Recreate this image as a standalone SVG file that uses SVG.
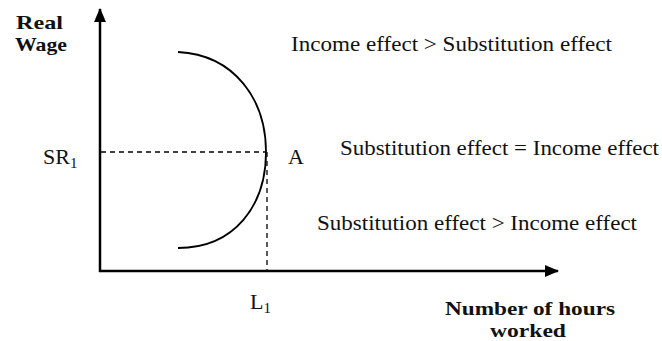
<svg xmlns="http://www.w3.org/2000/svg" width="662" height="341" viewBox="0 0 662 341">
<defs>
<marker id="arr" markerWidth="14" markerHeight="12" refX="13" refY="6" orient="auto" markerUnits="userSpaceOnUse">
<path d="M0,0 L14,6 L0,12 Z" fill="#000"/>
</marker>
<style>
.t{font-family:"Liberation Serif","Times New Roman",serif;font-size:22px;fill:#111}
.b{font-family:"Liberation Serif","Times New Roman",serif;font-size:19px;font-weight:bold;fill:#111}
.ax{stroke:#000;stroke-width:2.5;fill:none}
.dash{stroke:#000;stroke-width:1.3;stroke-dasharray:5,4;fill:none}
.curve{stroke:#000;stroke-width:1.8;fill:none}
</style>
</defs>
<rect width="662" height="341" fill="#fff"/>
<g id="axes">
<line class="ax" x1="100" y1="272" x2="100" y2="9" marker-end="url(#arr)"/>
<line class="ax" x1="99" y1="271" x2="558" y2="271" marker-end="url(#arr)"/>
</g>
<g id="connectors">
<line class="dash" x1="101" y1="152" x2="266" y2="152"/>
<line class="dash" x1="267" y1="152" x2="267" y2="270"/>
</g>
<g id="curve">
<path class="curve" d="M178,52 C235,55 266,100 266,152 C266,205 235,248 178,248"/>
</g>
<g id="labels">
<text class="b" x="16" y="29" textLength="47" lengthAdjust="spacingAndGlyphs">Real</text>
<text class="b" x="15" y="51" textLength="52" lengthAdjust="spacingAndGlyphs">Wage</text>
<text class="t" x="43" y="164">SR<tspan font-size="15" dy="4">1</tspan></text>
<text class="t" x="288" y="164">A</text>
<text class="t" x="250" y="309">L<tspan font-size="15" dy="4">1</tspan></text>
<text class="t" x="291" y="51" textLength="321" lengthAdjust="spacingAndGlyphs">Income effect &gt; Substitution effect</text>
<text class="t" x="340" y="155" textLength="319" lengthAdjust="spacingAndGlyphs">Substitution effect = Income effect</text>
<text class="t" x="317" y="230" textLength="320" lengthAdjust="spacingAndGlyphs">Substitution effect &gt; Income effect</text>
<text class="b" x="445" y="315" textLength="170" lengthAdjust="spacingAndGlyphs">Number of hours</text>
<text class="b" x="490" y="337" textLength="76" lengthAdjust="spacingAndGlyphs">worked</text>
</g>
</svg>
